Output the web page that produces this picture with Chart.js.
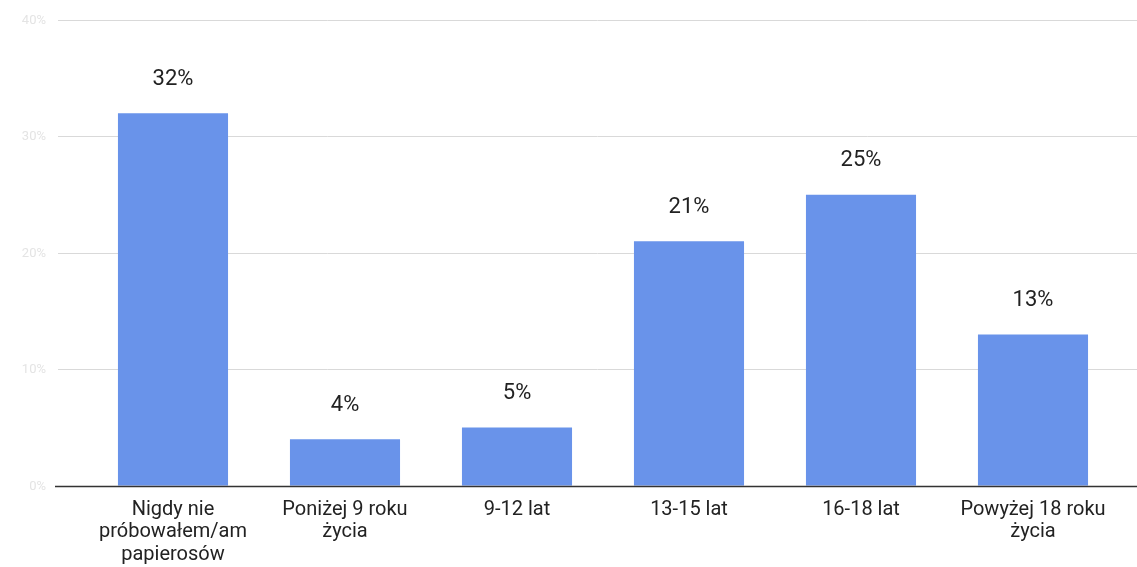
<!DOCTYPE html>
<html>
<head>
<meta charset="utf-8">
<script src="https://cdn.jsdelivr.net/npm/chart.js@4.4.1/dist/chart.umd.min.js"></script>
<style>
  html, body { margin: 0; padding: 0; background: #fff; overflow: hidden; }
  #chart { display: block; }
</style>
</head>
<body>
<canvas id="chart" width="1137" height="567"></canvas>
<script>
const categories = [
    ['Nigdy nie', 'próbowałem/am', 'papierosów'],
    ['Poniżej 9 roku', 'życia'],
    ['9-12 lat'],
    ['13-15 lat'],
    ['16-18 lat'],
    ['Powyżej 18 roku', 'życia']
];
const percentValues = [32, 4, 5, 21, 25, 13];
const yTicks = [0, 10, 20, 30, 40];
const yTickLabels = ['0%', '10%', '20%', '30%', '40%'];

// gridlines, faint y labels and the base line run wider than the bars
const frameLines = {
    id: 'frameLines',
    beforeDatasetsDraw(chart) {
        const ctx = chart.ctx;
        const y = chart.scales.y;
        ctx.save();
        ctx.font = '13px Roboto';
        ctx.textAlign = 'right';
        ctx.textBaseline = 'middle';
        yTicks.forEach((v, i) => {
            const py = Math.round(y.getPixelForValue(v)) + 0.5;
            if (v !== 0) {
                ctx.strokeStyle = '#d9d9d9';
                ctx.lineWidth = 1;
                ctx.beginPath();
                ctx.moveTo(58, py);
                ctx.lineTo(chart.width, py);
                ctx.stroke();
            }
            ctx.fillStyle = '#e4e4e4';
            ctx.fillText(yTickLabels[i], 46, py);
        });
        ctx.restore();
    },
    afterDatasetsDraw(chart) {
        const ctx = chart.ctx;
        const py = Math.round(chart.scales.y.getPixelForValue(0)) + 0.5;
        ctx.save();
        ctx.strokeStyle = '#333';
        ctx.lineWidth = 1.5;
        ctx.beginPath();
        ctx.moveTo(55, py);
        ctx.lineTo(chart.width, py);
        ctx.stroke();

        // value labels above bars
        ctx.font = '22px Roboto';
        ctx.fillStyle = '#222';
        ctx.textAlign = 'center';
        ctx.textBaseline = 'middle';
        chart.getDatasetMeta(0).data.forEach((bar, i) => {
            ctx.fillText(percentValues[i] + '%', bar.x, bar.y - 34);
        });
        ctx.restore();
    }
};

new Chart(document.getElementById('chart').getContext('2d'), {
    type: 'bar',
    data: {
        labels: categories,
        datasets: [{
            data: percentValues,
            backgroundColor: '#6993ea',
            borderWidth: 0,
            categoryPercentage: 1,
            barPercentage: 0.64
        }]
    },
    options: {
        responsive: false,
        animation: false,
        devicePixelRatio: 1,
        layout: { padding: { left: 87, right: 18, top: 20, bottom: -4 } },
        plugins: {
            legend: { display: false },
            tooltip: { enabled: false }
        },
        scales: {
            x: {
                grid: { display: false },
                border: { display: false },
                ticks: {
                    color: '#222',
                    font: { family: 'Roboto', size: 20, lineHeight: 1.12 },
                    padding: 5,
                    maxRotation: 0,
                    autoSkip: false
                }
            },
            y: {
                display: false,
                min: 0,
                max: 40,
                ticks: { stepSize: 10 }
            }
        }
    },
    plugins: [frameLines]
});
</script>
</body>
</html>
